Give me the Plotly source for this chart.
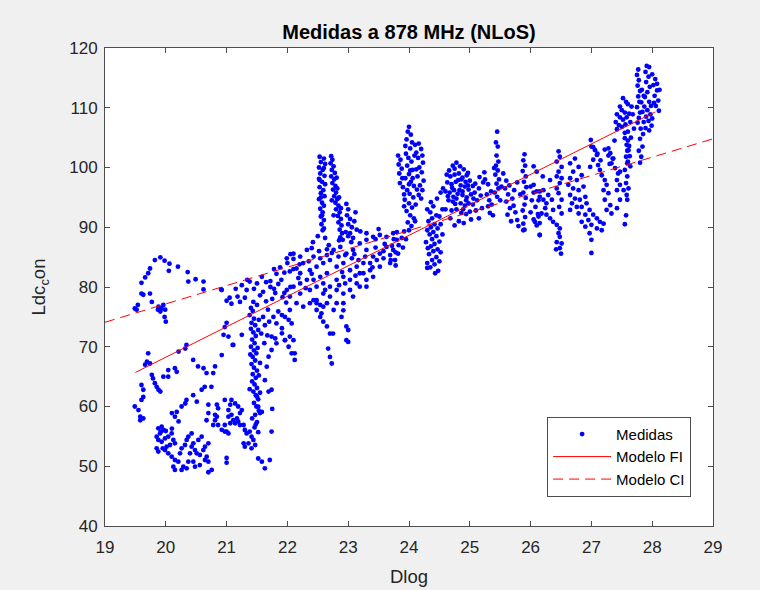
import plotly.graph_objects as go

# ---------------- data ----------------
pts_19_20 = [
    (19.82,84.5),(19.91,84.97),(19.98,84.4),(19.74,83.1),(19.71,82.3),(19.66,81.6),(19.60,80.7),(20.06,83.9),
    (20.20,83.4),(20.05,82.7),(20.36,82.5),(20.37,80.9),(20.49,81.3),(20.62,80.9),(20.62,79.6),(20.91,79.6),
    (19.60,78.9),(19.63,78.7),(19.74,78.9),(19.77,77.5),(19.54,77.0),(19.49,76.4),(19.52,76.2),
    (19.88,76.7),(19.93,76.4),(19.96,77.0),(19.91,75.9),(19.99,76.2),(19.98,75.0),(20.00,74.2),(19.87,76.2),
    (19.71,68.9),(19.69,67.5),(19.66,67.0),(19.74,67.2),(19.77,65.3),(19.79,64.7),(19.82,63.9),(19.85,63.3),
    (19.88,62.8),(19.91,62.5),(19.60,63.6),(19.63,62.8),(19.63,61.6),(19.60,61.1),(19.49,60.0),(19.55,59.4),
    (19.58,58.3),(19.63,58.0),(19.58,57.7),
    (19.96,65.0),(20.04,65.0),(20.15,66.4),(20.18,65.8),(20.04,66.1),(20.45,67.8),(20.53,66.7),(20.62,66.4),
    (20.67,65.6),(20.78,65.6),(20.81,66.7),(20.92,68.6),(21.03,71.7),(20.95,72.0),(21.11,70.3),(21.25,72.0),
    (20.34,70.3),(20.32,69.7),(20.21,69.2),
    (20.64,63.3),(20.75,63.3),(20.59,62.8),(20.45,61.9),(20.51,60.8),(20.70,60.3),(20.70,58.9),(20.67,57.7),
    (20.34,61.1),(20.32,60.5),(20.26,60.0),(20.18,59.1),(20.15,58.3),(20.10,58.9),(20.21,57.5),(20.84,60.3),
    (20.86,59.7),(20.81,57.7),(20.86,56.9),(20.97,55.8),(21.03,55.5),(20.92,56.1),
]
pts_20_lowblob = [
    (19.877,56.35),(19.932,56.63),(19.96,56.07),(19.905,55.5),(19.85,54.95),(19.877,54.4),(19.932,54.1),
    (19.987,54.66),(20.04,54.95),(20.097,55.5),(20.124,54.4),(20.15,53.84),(20.07,53.56),(20.014,53.28),
    (19.987,52.7),(19.85,53.0),(19.877,52.45),(20.04,52.17),(20.097,51.6),(20.15,51.05),(20.206,50.77),
    (20.124,49.93),(20.15,49.38),(20.26,49.38),(20.343,49.66),(20.37,50.77),(20.398,52.17),(20.425,53.28),
    (20.453,53.84),(20.48,52.7),(20.508,52.17),(20.56,51.89),(20.617,52.7),(20.645,53.28),(20.70,53.84),
    (20.535,54.4),(20.59,54.95),(20.425,55.5),(20.37,54.95),(20.343,54.4),(20.672,51.6),(20.645,51.05),
    (20.70,50.77),(20.755,49.38),(20.70,49.0),(20.56,50.2),(20.48,49.93),(20.453,50.77),(20.288,49.93),
    (20.234,52.17),(20.26,53.0),(20.316,53.56),(19.92,55.8),(19.95,53.0),(20.0,55.9),(20.1,56.3),
]
pts_21_22 = [
    (20.81,58.6),(20.84,58.3),(20.78,56.9),(20.97,56.9),(21.00,55.8),(21.03,58.3),(21.08,61.1),(21.14,60.5),
    (21.19,60.0),(21.22,58.9),(21.25,59.4),(21.17,58.0),(21.19,57.5),(21.22,56.9),(21.14,57.2),(21.28,56.9),
    (21.30,56.07),(21.33,55.5),(21.38,55.8),(21.41,54.95),(21.44,54.4),(21.47,53.56),(21.41,53.0),(21.36,53.84),
    (21.30,53.28),(21.28,53.84),(20.97,61.1),(21.06,60.3),(21.03,59.4),(21.08,58.6),(21.11,57.7),(21.06,57.2),
    (21.0,51.4),(21.0,50.6),
    (21.52,51.3),(21.58,50.77),(21.63,49.66),(21.71,51.05),(21.74,55.8),(21.55,58.9),(21.58,59.1),(21.50,61.65),
    (21.52,59.97),(21.69,62.5),(21.74,62.8),(21.63,64.4),(21.66,66.67),(21.69,68.34),(21.74,69.46),(21.82,70.57),
    (21.80,71.4),(21.74,71.7),(21.91,72.25),(21.96,71.1),(22.02,70.0),(22.07,68.9),(22.10,71.1),(22.07,73.9),
    (22.02,74.5),(21.96,75.0),(21.91,75.3),(21.85,75.9),(21.77,75.0),(21.82,73.9),(21.91,73.1),(21.75,59.6),
    (21.40,76.5),(21.43,76.0),(21.38,75.3),(21.45,74.7),(21.41,74.0),(21.47,73.6),(21.40,73.0),(21.44,72.4),
    (21.48,71.8),(21.42,71.2),(21.46,70.6),(21.40,70.0),(21.45,69.4),(21.49,68.9),(21.43,68.3),(21.47,67.7),
    (21.41,67.1),(21.45,66.5),(21.50,66.0),(21.43,65.4),(21.48,64.8),(21.42,64.2),(21.46,63.7),(21.50,63.1),
    (21.44,62.5),(21.48,61.9),(21.52,61.2),(21.45,60.6),(21.49,60.0),(21.53,59.3),(21.47,58.6),(21.42,58.0),
    (21.50,57.4),(21.46,56.5),(21.52,55.7),(21.48,57.0),(21.51,69.8),(21.44,77.5),(21.50,77.0),(21.52,72.8),
    (21.53,65.2),(21.39,68.7),(21.38,62.9),(21.55,62.3),(21.55,67.3),(21.53,74.5),
    (21.25,80.3),(21.33,79.5),(21.38,80.9),(21.45,79.7),(21.50,80.6),(21.55,78.6),(21.60,79.2),(21.65,80.8),
    (21.58,81.7),(21.30,78.2),(21.22,77.5),(21.18,78.4),(21.15,79.7),(21.08,77.2),(21.05,78.2),(21.00,77.7),
    (21.65,77.6),(21.68,76.2),(21.60,75.0),(21.63,73.6),(21.57,72.2),(21.62,70.6),(21.67,71.9),(21.70,74.2),
    (21.75,78.0),(21.80,79.0),(21.72,80.0),(21.85,80.5),(21.90,81.2),(21.95,82.4),(21.82,82.2),(21.78,83.0),
    (21.88,83.3),(21.95,79.0),(21.98,77.4),(21.92,78.3),(22.05,85.5),(22.0,84.0),(22.1,83.0),(22.05,80.0),
    (21.72,81.0),(21.78,79.7),(21.34,81.2),(20.92,79.5),(20.97,73.3),(21.1,70.3),(21.0,74.0),
]
pts_22_24 = [
    (21.99,84.8),(22.10,85.6),(22.21,85.1),(22.32,86.2),(22.40,86.5),(22.43,85.1),(22.26,84.0),(22.15,83.1),
    (22.04,82.6),(22.21,82.3),(22.37,82.8),(22.48,83.4),(22.59,84.0),(22.70,84.5),(22.76,86.2),(22.87,86.7),
    (22.97,85.6),(23.08,86.2),(23.19,87.3),(23.30,87.9),(23.41,88.4),(23.52,88.7),(23.63,88.4),(23.74,89.0),
    (23.30,86.2),(23.41,85.1),(23.52,85.6),(23.63,86.7),(23.74,86.2),(23.69,84.0),(23.52,83.4),(23.36,82.8),
    (23.25,82.3),(23.14,83.4),(23.03,82.8),(22.92,84.0),(22.81,83.4),(22.65,82.3),(22.54,81.7),(22.43,81.2),
    (22.32,81.2),(22.21,80.6),(22.10,80.05),(21.99,79.5),(22.04,78.4),(22.21,78.9),(22.37,79.5),(22.48,80.05),
    (22.59,80.6),(22.70,80.05),(22.81,81.2),(22.92,81.7),(23.03,81.2),(23.14,80.6),(23.03,79.5),(22.92,78.9),
    (22.81,79.5),(22.70,78.4),(22.59,78.9),(22.48,77.8),(22.37,77.3),(22.26,76.7),(22.15,77.3),(22.04,76.15),
    (22.48,76.15),(22.65,77.3),(22.81,77.3),(22.76,76.15),(22.54,75.0),(22.92,77.3),(23.08,78.4),(23.19,80.05),
    (23.30,81.2),(23.41,81.7),(23.30,80.05),(23.19,82.3),(23.36,84.0),(23.47,84.5),(23.58,84.8),(23.69,85.35),
    (23.80,87.9),(23.82,85.6),(23.77,84.5),(23.17,84.5),(23.28,85.1),(22.54,84.8),(22.65,85.35),(22.84,85.1),
    (22.95,85.35),(23.06,84.8),
    (22.42,87.5),(22.62,88.2),(22.68,87.0),(22.65,86.3),(23.30,89.0),(23.45,88.0),(23.60,87.2),(22.10,84.7),
    (22.20,83.8),(22.50,88.5),(22.60,89.8),(22.85,87.8),(23.00,88.5),(23.20,89.3),(23.50,89.7),
    (22.43,77.8),(22.48,77.3),(22.54,77.0),(22.59,76.7),(22.56,75.6),(22.59,74.2),(22.65,73.4),(22.70,72.2),
    (22.67,69.7),(22.70,68.3),(22.73,67.2),(22.75,72.2),(22.97,73.4),(23.00,72.8),(22.97,71.1),(23.00,70.8),
    (22.92,76.1),(22.89,75.0),(22.12,68.9),(22.12,67.8),(22.04,71.7),(21.96,71.1),
    (22.35,84.3),(22.52,86.0),(22.73,85.7),(22.90,82.5),(23.10,85.5),(23.25,84.0),(23.45,86.6),(23.58,86.0),
    (22.30,79.8),(22.62,79.5),(22.85,80.3),(23.12,81.9),(23.40,83.3),(22.18,81.5),(22.40,82.2),(22.95,80.6),
]
pts_22_columns = [
    (22.53,101.8),(22.60,101.5),(22.55,100.9),(22.62,100.6),(22.52,100.0),(22.58,99.6),(22.54,99.0),(22.61,98.6),
    (22.52,98.1),(22.57,97.6),(22.62,97.2),(22.53,96.7),(22.59,96.2),(22.55,95.7),(22.61,95.2),(22.52,94.7),
    (22.57,94.1),(22.60,93.6),(22.54,93.1),(22.58,92.5),(22.55,91.8),(22.60,91.2),(22.56,90.5),(22.58,89.5),
    (22.53,97.9),(22.60,99.9),(22.55,95.0),(22.57,92.0),
    (22.72,101.9),(22.74,101.3),(22.71,100.7),(22.76,100.2),(22.73,99.6),(22.78,99.1),(22.72,98.5),(22.77,98.0),
    (22.74,97.4),(22.79,96.9),(22.75,96.3),(22.80,95.8),(22.77,95.2),(22.82,94.7),(22.79,94.1),(22.84,93.6),
    (22.80,93.0),(22.86,92.5),(22.83,91.9),(22.88,91.4),(22.84,90.8),(22.89,90.3),(22.86,89.6),(22.90,89.0),
    (22.87,88.3),(22.91,87.9),(22.82,96.5),(22.85,95.0),(22.88,93.2),(22.76,92.0),(22.73,94.5),(22.81,98.3),
    (22.97,93.9),(23.00,93.0),(22.98,92.0),(23.03,91.4),(23.00,90.5),(23.06,90.0),(23.03,89.0),(23.08,88.2),
    (23.10,91.0),(23.12,92.5),(23.05,87.5),(22.96,89.2),(23.14,89.6),
]
pts_24 = [
    (24.00,106.8),(23.98,106.0),(24.03,105.5),(23.96,104.7),(24.05,104.2),(23.94,103.6),(24.02,103.2),(24.10,103.8),
    (24.16,104.0),(24.20,103.1),(24.12,102.5),(24.22,102.0),(24.15,101.6),(24.23,100.8),(24.17,100.0),(24.21,99.2),
    (24.14,98.5),(24.24,97.8),(24.18,97.0),(24.22,96.2),(24.16,95.4),(24.20,94.8),(23.82,102.0),(23.86,101.3),
    (23.83,100.5),(23.88,99.8),(23.84,99.0),(23.89,98.2),(23.85,97.4),(23.90,96.7),(23.95,102.3),(23.99,101.6),
    (24.04,101.0),(23.97,100.3),(24.06,99.6),(24.00,98.9),(23.94,98.2),(24.03,97.6),(24.08,96.9),(23.97,96.2),
    (24.01,95.6),(24.07,95.0),(23.93,94.6),(24.00,94.0),(24.05,93.3),(23.96,92.7),(24.02,92.0),(24.08,91.5),
    (23.98,90.8),(24.04,90.2),(24.10,91.0),(23.92,93.5),(24.11,93.8),(24.12,99.7),(24.09,102.0),(23.92,95.5),
    (24.06,98.2),(24.13,96.3),(24.00,97.2),(24.02,99.5),
    (23.75,88.0),(23.80,89.2),(23.72,86.9),(23.78,85.8),(23.83,87.0),(23.88,88.2),(23.92,89.3),(23.70,84.5),
    (23.78,83.6),(23.90,86.6),(23.95,88.0),(24.00,89.5),
    (24.30,93.0),(24.35,92.5),(24.40,93.5),(24.45,92.0),(24.38,91.5),(24.32,91.0),(24.42,90.5),(24.36,90.0),
    (24.47,89.8),(24.40,89.2),(24.34,88.8),(24.45,88.5),(24.38,88.0),(24.50,87.6),(24.42,87.2),(24.36,86.8),
    (24.47,86.3),(24.40,86.0),(24.33,85.5),(24.45,85.0),(24.38,84.5),(24.50,84.3),(24.42,83.8),(24.35,83.3),
    (24.48,82.7),(24.43,82.3),(24.52,85.8),(24.55,88.8),(24.52,90.5),(24.30,89.5),(24.28,87.5),(24.50,91.8),
    (24.55,93.0),(24.31,86.5),(24.36,94.2),(24.46,94.8),(24.52,95.8),(24.56,96.5),(24.30,84.0),(24.30,83.2),
]
pts_25 = [
    (24.66,99.5),(24.72,100.3),(24.78,100.8),(24.84,100.2),(24.90,99.7),(24.68,98.5),(24.75,98.8),(24.82,99.0),
    (24.88,98.3),(24.95,98.7),(25.00,97.8),(24.63,97.5),(24.70,97.2),(24.77,97.6),(24.85,97.0),(24.92,96.8),
    (24.98,96.3),(25.05,96.9),(24.60,96.0),(24.67,95.8),(24.74,96.2),(24.80,95.6),(24.88,95.4),(24.95,95.0),
    (25.02,95.5),(25.08,95.8),(24.65,94.5),(24.72,94.3),(24.78,94.8),(24.85,94.0),(24.92,93.6),(24.98,94.0),
    (25.05,93.8),(25.12,94.5),(24.60,93.0),(24.70,92.8),(24.78,93.0),(24.86,92.4),(24.94,92.2),(25.00,92.6),
    (25.10,92.8),(24.68,91.5),(24.82,91.0),(24.90,90.7),(25.02,91.3),(25.15,91.5),(24.75,90.3),(24.97,97.0),
    (24.88,96.0),(24.81,97.9),(24.73,95.1),(25.15,96.5),(25.18,95.3),(25.20,93.2),(25.22,97.5),
    (25.25,98.0),(25.30,97.2),(25.28,95.5),(25.32,94.5),(25.24,99.2),(25.35,96.0),(25.30,93.5),(25.33,92.4),
    (25.45,106.0),(25.43,104.2),(25.46,103.5),(25.44,102.0),(25.47,101.0),(25.43,100.3),(25.46,99.5),(25.42,98.8),
    (25.48,98.0),(25.44,97.3),(25.47,96.5),(25.41,95.8),(25.45,95.1),(25.50,94.5),(25.52,96.8),(25.40,99.9),
    (25.38,92.0),(25.36,93.8),
    (25.55,99.0),(25.60,97.8),(25.58,96.5),(25.63,95.5),(25.60,94.3),(25.66,93.2),(25.62,92.1),(25.70,94.8),
    (25.72,93.6),(25.75,92.5),(25.78,91.2),(25.68,91.0),(25.80,90.2),(25.65,97.0),(25.73,96.2),(25.83,95.5),
    (25.78,97.5),
    (25.90,102.2),(25.88,101.2),(25.91,100.3),(25.87,99.4),(25.92,98.5),(25.89,97.6),(25.93,96.7),(25.88,95.8),
    (25.92,94.9),(25.90,93.8),(25.87,92.8),(25.91,91.7),(25.88,90.6),(25.90,89.6),(25.88,89.5),
    (26.00,96.8),(26.05,95.8),(26.02,94.5),(26.08,93.4),(26.12,92.2),(26.05,91.3),(26.10,90.3),(26.15,96.0),
    (26.13,94.5),(26.00,92.5),(26.15,88.7),(26.10,99.3),(26.20,98.5),(26.05,100.2),
    (24.75,99.8),(24.86,98.0),(24.93,97.6),(24.71,96.6),(24.83,96.2),(24.94,94.5),(24.64,95.2),(24.76,93.9),
    (24.89,93.0),(25.06,94.8),(25.09,97.3),(24.97,99.1),(24.62,98.8),(25.16,98.4),
]
pts_26_27 = [
    (26.05,97.1),(26.10,96.0),(26.15,95.1),(26.21,94.6),(26.26,94.0),(26.24,93.2),(26.18,92.3),(26.13,91.8),
    (26.07,90.9),(26.15,90.7),(26.26,92.1),(26.32,91.5),(26.37,90.9),(26.43,90.4),(26.48,89.8),(26.46,89.0),
    (26.15,88.7),(26.37,92.9),(26.35,94.6),(26.29,95.4),(26.21,96.2),(26.32,97.9),(26.43,98.5),
    (26.46,102.7),(26.48,101.8),(26.43,101.0),(26.51,100.1),(26.46,99.3),(26.51,98.2),(26.48,97.4),(26.43,96.5),
    (26.46,95.7),(26.51,94.6),(26.47,93.4),(26.51,92.3),(26.48,88.4),(26.51,87.3),(26.48,86.5),(26.50,85.6),
    (26.43,87.5),(26.42,86.3),
    (26.65,100.7),(26.73,101.5),(26.79,100.1),(26.70,99.3),(26.65,98.2),(26.76,97.9),(26.84,98.7),(26.62,97.1),
    (26.70,96.5),(26.79,96.2),(26.87,96.8),(26.65,95.4),(26.73,94.8),(26.81,94.6),(26.90,95.1),(26.68,94.0),
    (26.76,93.4),(26.84,93.4),(26.92,94.0),(26.65,92.9),(26.79,92.3),(26.90,92.1),(26.97,92.9),(27.03,92.1),
    (27.09,91.5),(27.14,90.9),(26.95,91.2),(26.84,90.9),(26.90,90.1),(27.00,90.4),(27.09,89.8),(26.97,89.0),
    (27.00,87.9),(27.00,85.7),(27.17,89.5),(27.20,90.6),
    (27.00,103.5),(27.06,102.9),(27.09,102.1),(27.03,101.3),(27.11,100.4),(27.14,99.6),(26.98,100.1),(27.17,98.7),
    (27.22,97.9),(27.25,97.1),(27.20,96.2),(27.28,95.7),(27.22,94.6),(27.31,93.7),(27.25,92.9),(27.33,92.3),
    (27.42,93.2),(27.47,94.6),
    (27.28,103.2),(27.31,102.4),(27.36,101.5),(27.33,100.7),(27.39,99.9),(27.44,99.0),(27.42,97.9),(27.47,97.1),
    (27.42,96.2),
    (27.55,104.9),(27.58,103.8),(27.61,102.9),(27.57,101.8),(27.59,100.7),(27.55,99.6),(27.59,98.5),(27.57,97.4),
    (27.61,96.5),(27.58,95.4),(27.59,94.6),(27.53,96.2),(27.47,99.3),(27.57,92.0),(27.55,90.5),
]
pts_28 = [
    (27.77,116.4),(27.75,115.5),(27.78,114.6),(27.76,113.7),(27.80,112.8),(27.77,111.9),(27.79,111.0),(27.75,110.1),
    (27.80,109.2),(27.78,108.3),(27.76,107.5),
    (27.91,117.0),(27.95,116.8),(27.89,116.0),(27.94,115.2),(27.90,114.3),(27.96,113.5),(27.92,112.6),(27.88,111.8),
    (27.95,111.0),
    (28.00,115.6),(28.05,114.8),(28.02,113.8),(28.08,112.9),(28.04,112.0),(28.10,111.2),(28.06,110.3),(28.11,109.5),
    (28.03,110.8),(28.08,114.0),(28.12,113.0),
    (27.83,113.0),(27.86,112.0),(27.82,110.9),(27.87,110.2),(27.84,109.3),(27.90,108.5),(27.86,107.6),(27.92,109.6),
    (27.97,108.9),(27.94,107.8),(27.99,107.0),(27.89,106.6),(27.95,106.2),(27.81,106.5),(27.85,105.6),(27.80,104.8),
    (27.84,103.5),(27.78,102.8),(27.82,101.8),(27.80,100.8),(27.98,110.3),(28.00,108.2),
    (27.52,111.6),(27.57,111.0),(27.60,110.6),(27.47,110.2),(27.50,109.6),(27.55,109.2),(27.42,108.9),(27.47,108.4),
    (27.52,108.0),(27.58,108.4),(27.62,109.0),(27.40,107.6),(27.45,107.1),(27.50,106.8),(27.56,107.2),(27.64,107.6),
    (27.68,108.9),(27.66,110.2),(27.70,106.5),(27.55,105.8),(27.60,106.0),(27.65,105.0),(27.42,106.4),
    (27.60,104.5),(27.62,103.6),(27.59,102.8),(27.63,101.9),(27.60,101.0),(27.64,100.2),
    (26.99,104.6),(27.03,103.4),(27.10,102.3),(27.15,101.2),(27.22,103.0),(27.28,102.0),(27.30,100.6),(27.38,104.5),
    (27.35,101.5),
]

# model lines (end points)
fi_x = [19.5, 28.05]
fi_y = [65.7, 109.3]
ci_x = [19.0, 29.0]
ci_y = [74.1, 104.8]

x_ticks = [19, 20, 21, 22, 23, 24, 25, 26, 27, 28, 29]
y_ticks = [40, 50, 60, 70, 80, 90, 100, 110, 120]

all_pts = (pts_19_20 + pts_20_lowblob + pts_21_22 + pts_22_24 + pts_22_columns
           + pts_24 + pts_25 + pts_26_27 + pts_28)
meas_x = [p[0] for p in all_pts]
meas_y = [p[1] for p in all_pts]

FONT = "Liberation Sans, Arial, Helvetica, sans-serif"
TXT = "#262626"
LINE = "#4d4d4d"

fig = go.Figure()
fig.add_trace(go.Scatter(x=meas_x, y=meas_y, mode="markers", name="Medidas",
                         marker=dict(color="#0000FF", size=4.8, line=dict(width=0))))
fig.add_trace(go.Scatter(x=fi_x, y=fi_y, mode="lines", name="Modelo FI",
                         line=dict(color="#FF0000", width=1)))
fig.add_trace(go.Scatter(x=ci_x, y=ci_y, mode="lines", name="Modelo CI",
                         line=dict(color="#FF0000", width=1, dash="10px,6px")))

axis_common = dict(showgrid=False, zeroline=False, showline=True, linecolor=LINE, linewidth=1,
                   mirror="ticks", ticks="inside", ticklen=5, tickcolor=LINE, tickwidth=1,
                   automargin=False,
                   tickfont=dict(family=FONT, size=17, color=TXT))

fig.update_xaxes(range=[19, 29], tickvals=x_ticks, ticktext=[str(v) for v in x_ticks],
                 ticklabelstandoff=6,
                 title=dict(text="Dlog", font=dict(family=FONT, size=18.5, color=TXT), standoff=13),
                 **axis_common)
fig.update_yaxes(range=[40, 120], tickvals=y_ticks, ticktext=[str(v) for v in y_ticks],
                 ticklabelstandoff=3,
                 title=dict(text="Ldc<sub>c</sub>on", font=dict(family=FONT, size=18.5, color=TXT), standoff=18),
                 **axis_common)

fig.update_layout(
    width=760, height=590,
    margin=dict(l=105, r=47, t=48, b=64, autoexpand=False),
    paper_bgcolor="#F0F0F0", plot_bgcolor="#FFFFFF",
    title=dict(text="<b>Medidas a 878 MHz (NLoS)</b>", x=0.5, xref="paper", xanchor="center",
               y=0.946, yanchor="middle", font=dict(family=FONT, size=20, color="#000000")),
    legend=dict(x=0.964, y=0.061, xanchor="right", yanchor="bottom",
                bgcolor="#FFFFFF", bordercolor=LINE, borderwidth=1,
                font=dict(family=FONT, size=15, color="#000000"),
                itemwidth=58, tracegroupgap=0),
    showlegend=True,
)

fig.write_html("out.html")
